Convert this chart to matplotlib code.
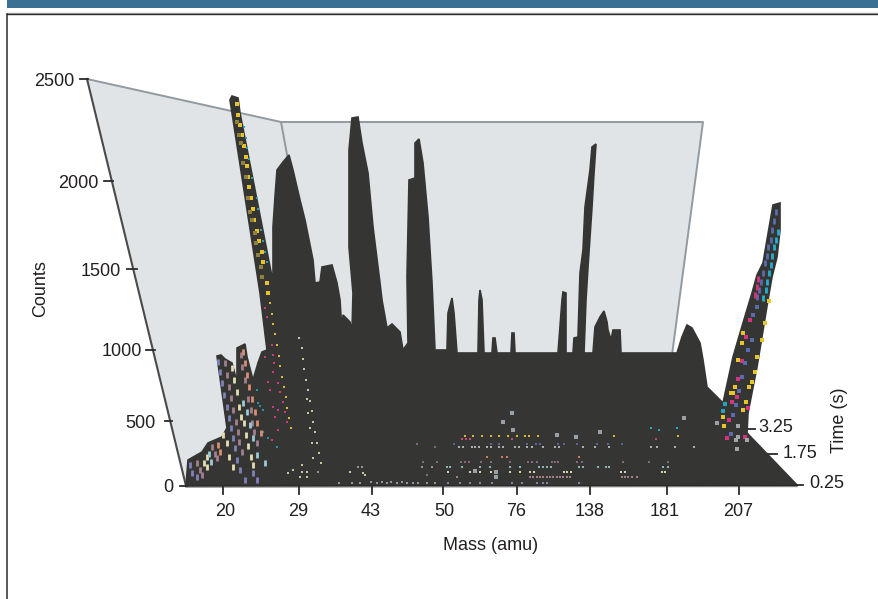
import numpy as np
import matplotlib
matplotlib.use("Agg")
import matplotlib.pyplot as plt

plt.rcParams['font.family'] = ['Liberation Sans', 'DejaVu Sans']

# tick labels
mass_labels = ["20", "29", "43", "50", "76", "138", "181", "207"]
mass_pos = [223, 299, 372, 443, 517, 590, 667, 739]
mass_label_pos = [225, 298, 371, 444, 516, 590, 665, 738]

count_labels = ["2500", "2000", "1500", "1000", "500", "0"]
count_pos = [79, 181, 269, 350, 421, 486]
count_tick_x = [(80, 88), (104, 113), (127, 137), (146, 155), (165, 172), (180, 187)]
count_label_x = [74, 99, 121, 142, 156, 173]

time_labels = ["3.25", "1.75", "0.25"]
time_pos = [429, 454, 485]
time_tick_x = [(748, 755), (768, 777), (797, 803)]
time_label_x = [758, 783, 809]

# back walls of the box
wall_x = [87, 281, 703, 672, 186]
wall_y = [79, 122, 122, 355, 486]

# outline of the surface, as seen on the page
surface_x = [186, 188, 202, 208, 222, 227, 217, 221, 225, 232, 237, 237, 245, 247, 253, 258, 262,
             267, 260, 230, 232, 238, 240, 272, 273, 273, 275, 277, 283, 289, 293, 300, 305, 313,
             315, 320, 322, 332, 337, 340, 342, 343, 350, 352, 353, 349, 349, 352, 358, 362, 368,
             373, 380, 382, 387, 392, 400, 403, 408, 407, 409, 415, 415, 419, 423, 428, 432, 435,
             440, 447, 448, 452, 454, 457, 478, 479, 480, 482, 484, 492, 493, 495, 497, 511, 512,
             514, 515, 558, 562, 563, 566, 566, 573, 574, 578, 580, 583, 585, 590, 592, 596, 594,
             592, 588, 586, 584, 593, 595, 600, 604, 607, 608, 611, 613, 620, 621, 677, 682, 687,
             692, 700, 703, 707, 723, 733, 743, 752, 757, 763, 773, 780, 780, 777, 772, 768, 757,
             748, 747, 797]
surface_y = [486, 460, 452, 443, 437, 428, 356, 355, 359, 363, 382, 348, 344, 357, 380, 363, 352,
             350, 293, 100, 96, 98, 113, 277, 273, 227, 197, 170, 162, 155, 170, 200, 220, 260,
             283, 282, 267, 265, 283, 300, 332, 315, 322, 332, 293, 247, 150, 118, 117, 143, 173,
             227, 283, 300, 328, 324, 332, 350, 343, 277, 180, 178, 143, 139, 163, 217, 283, 350,
             350, 350, 313, 298, 313, 353, 353, 300, 290, 300, 353, 353, 338, 338, 353, 353, 333,
             333, 353, 353, 300, 292, 293, 353, 353, 338, 337, 273, 250, 207, 170, 147, 144, 173,
             207, 267, 300, 353, 353, 327, 317, 311, 322, 330, 340, 330, 330, 353, 353, 337, 325,
             328, 343, 360, 387, 403, 357, 323, 293, 275, 263, 205, 203, 230, 257, 277, 300, 367,
             413, 433, 485]

# speckles on the surface, read at 3x from the crops
# left tall peak and the ridge below it (crop origin 0,0 and 0,300)
tall_yellow = [(710, 312), (715, 345), (720, 375), (727, 405), (732, 438), (738, 470), (742, 498),
               (745, 532), (748, 562), (752, 594), (758, 628), (762, 660), (770, 693), (778, 722),
               (785, 755), (790, 785), (800, 848), (805, 880)]
tall_olive = [(712, 365), (718, 405), (722, 430), (730, 490), (738, 530), (745, 595), (750, 635),
              (757, 660), (765, 700), (768, 730), (775, 765), (782, 800), (785, 830)]
tall_cyan = [(732, 382), (738, 415), (742, 445), (748, 478), (757, 535), (770, 595), (775, 628),
             (783, 690), (790, 722), (795, 755), (802, 785)]
ridge_yellow = [(810, 10), (815, 42), (820, 72), (825, 103), (830, 135), (836, 167), (840, 198),
                (847, 230), (852, 260), (857, 292), (862, 323), (867, 353), (872, 385)]
ridge_magenta = [(795, 25), (800, 52), (795, 170), (815, 135), (820, 165), (822, 190), (805, 245),
                 (810, 270), (820, 215), (835, 250), (840, 275), (850, 305), (820, 322), (835, 330),
                 (855, 335), (825, 350), (835, 390), (860, 365), (815, 420)]
ridge_cyan = [(770, 270), (780, 318), (790, 330), (775, 310), (805, 415), (790, 395), (830, 442)]
ridge_cream = [(897, 113), (905, 145), (908, 177), (913, 208), (918, 240), (924, 270), (930, 302),
               (935, 333), (940, 365), (945, 397), (950, 428), (935, 428), (957, 458), (962, 490),
               (920, 297), (925, 340), (930, 385), (940, 475), (905, 495), (880, 510), (865, 520),
               (920, 515), (920, 530), (900, 530), (905, 515), (1050, 515), (1090, 520), (1095, 525)]
floor_left_gray = [(1018, 548), (1055, 548), (1080, 550), (1112, 545), (1130, 548), (1145, 545),
                   (1160, 548), (1172, 545), (1190, 548), (1205, 547), (1222, 548), (1238, 548),
                   (1255, 548), (1282, 548), (1305, 548), (955, 515), (1075, 500), (1085, 500),
                   (1265, 500), (1295, 500)]
floor_left_mauve = [(1252, 433), (1305, 442), (1268, 485), (1280, 525), (1312, 485)]

# low fan at the left, short dashes (crop origin 0,300)
fan_violet = [(655, 185), (660, 215), (667, 250), (672, 285), (680, 320), (687, 355), (693, 385),
              (700, 415), (705, 445), (712, 480), (720, 510), (735, 540), (570, 495), (575, 520),
              (590, 530), (760, 520), (770, 540)]
fan_brown = [(675, 190), (680, 225), (688, 260), (692, 295), (700, 330), (707, 365), (713, 395),
             (718, 425), (725, 455), (722, 165), (727, 200), (735, 240), (745, 297), (752, 330),
             (757, 370), (762, 395), (770, 430), (592, 490), (600, 510), (605, 525), (635, 440),
             (645, 462), (650, 475)]
fan_cream = [(695, 205), (702, 240), (710, 275), (718, 320), (723, 352), (732, 370), (738, 405),
             (745, 437), (752, 470), (760, 495), (620, 470), (612, 490), (622, 500), (670, 405),
             (680, 430), (688, 470), (700, 500)]
fan_salmon = [(730, 155), (735, 190), (742, 225), (748, 262), (755, 298), (765, 335), (772, 370),
              (782, 400), (655, 435), (660, 455)]
fan_blue = [(628, 462), (632, 485), (730, 310), (740, 335), (750, 375), (760, 415), (770, 465), (795, 490)]

# floor rows, x read at 3x, crop origin 440,300
row_gold_x = [75, 100, 125, 152, 178, 205, 232, 255, 268, 293, 522, 715]
row_gold_y = 407
row_pink_x = [65, 78, 90, 215, 648]
row_pink_y = 416
row_violet_x = [42, 152, 178, 262, 288, 300, 355, 372, 412, 470, 505, 545]
row_violet_y = 433
row_gray_x = [57, 70, 95, 105, 117, 140, 152, 178, 190, 225, 237, 262, 275, 308, 345, 358, 430, 465,
              508, 632, 705, 762, 652]
row_gray_y = 442
row_salmon_x = [140, 187, 200, 418]
row_salmon_y = 470
row_mauve_x = [62, 75, 87, 122, 152, 210, 265, 277, 290, 335, 345, 355, 412, 425, 550, 628, 683]
row_mauve_y = 485
row_pale_x = [22, 30, 65, 120, 150, 210, 240, 297, 310, 320, 332, 418, 430, 475, 497, 507, 683, 670]
row_pale_y = 500
row_cream_x = [25, 90, 105, 120, 152, 210, 240, 270, 282, 372, 382, 392, 542, 555, 665, 675]
row_cream_y = 516
row_rose_x = [50, 165, 270, 280, 290, 300, 310, 320, 330, 340, 350, 360, 370, 380, 390, 545, 555,
              565, 575, 590]
row_rose_y = 532
row_base_x = [25, 60, 90, 120, 155, 215, 245, 290, 310, 320, 418]
row_base_y = 548
floor_gray = [(350, 405), (215, 340), (188, 365), (218, 390), (105, 512), (168, 530), (168, 515),
              (408, 410), (480, 397), (830, 370), (732, 353)]
floor_cyan = [(632, 385), (658, 390), (710, 385)]

# right tall peak, crop origin 440,0
right_top_violet = [(1008, 635), (1003, 662), (997, 690), (992, 720), (985, 742), (980, 768),
                    (975, 790), (970, 818), (963, 845), (957, 870), (952, 890)]
right_top_cyan = [(1015, 695), (1008, 720), (1002, 742), (997, 768), (992, 795), (988, 818),
                  (982, 845), (977, 870), (970, 895)]
right_top_magenta = [(955, 838), (950, 860), (945, 885)]
# crop origin 440,300
right_magenta = [(930, 60), (918, 112), (905, 183), (893, 238), (875, 305), (868, 360), (860, 415),
                 (925, 325), (915, 410), (890, 290)]
right_violet = [(950, 20), (940, 45), (935, 120), (925, 150), (915, 190), (905, 230), (897, 272),
                (887, 315), (880, 345), (872, 403)]
right_yellow = [(987, 3), (975, 70), (965, 120), (950, 170), (945, 215), (935, 245), (928, 262),
                (918, 305), (910, 330), (880, 280), (852, 378), (885, 262), (905, 130), (910, 100),
                (895, 180), (850, 352), (873, 280)]
right_cyan = [(855, 312), (850, 332)]
right_gray = [(895, 378), (887, 420), (890, 447), (895, 410), (920, 420)]


def from_crop(pts, ox, oy):
    pts = np.array(pts, dtype=float)
    return pts[:, 0] / 3 + ox, pts[:, 1] / 3 + oy


def row(xs, y):
    return [(x, y) for x in xs]


fig = plt.figure(figsize=(8.79, 5.99), dpi=100)
ax = fig.add_axes([0, 0, 1, 1])
ax.set_xlim(0, 879)
ax.set_ylim(599, 0)
ax.axis("off")

# page furniture
ax.fill([7, 879, 879, 7], [0, 0, 8, 8], color="#3b7095", lw=0, zorder=1)
ax.plot([7, 879], [13, 13], color="#a9a9a9", lw=1, zorder=1)
ax.plot([7.5, 879], [14.3, 14.3], color="#2a2a2a", lw=1, zorder=1)
ax.plot([7.5, 7.5], [14, 599], color="#2a2a2a", lw=1.1, zorder=1)

# walls
ax.fill(wall_x, wall_y, color="#e0e4e7", lw=0, zorder=2)
ax.plot(wall_x[:4], wall_y[:4], color="#929aa1", lw=1.4, zorder=3)
ax.plot([wall_x[1], 288], [wall_y[1], 160], color="#929aa1", lw=1.4, zorder=3)
ax.plot([wall_x[0], wall_x[4]], [wall_y[0], wall_y[4]], color="#4a4a48", lw=1.5, zorder=3)

# surface
ax.fill(surface_x, surface_y, color="#353533", lw=1.2, ec="#353533", zorder=4)
ax.plot([186, 797], [487.2, 486.5], color="#9a9a9a", lw=1, zorder=4)
ax.plot([186, 797], [485.8, 485.5], color="#2a2a28", lw=1, zorder=5)


def dots(pts, ox, oy, color, s=3.5):
    x, y = from_crop(pts, ox, oy)
    ax.scatter(x, y, s=s, c=color, marker="s", linewidths=0, zorder=6)


def dashes(pts, ox, oy, color):
    x, y = from_crop(pts, ox, oy)
    ax.vlines(x, y - 3, y + 3, color=color, lw=2.0, zorder=6)


dots(tall_yellow, 0, 0, "#e8c22a", 7)
dots(tall_olive, 0, 0, "#8f8140", 6)
dots(tall_cyan, 0, 0, "#2d9db5", 3)
dots(ridge_yellow, 0, 300, "#d9bd3c")
dots(ridge_magenta, 0, 300, "#d13a80")
dots(ridge_cyan, 0, 300, "#2b93ab")
dots(ridge_cream, 0, 300, "#c9c3a0")
dots(floor_left_gray, 0, 300, "#8e979e")
dots(floor_left_mauve, 0, 300, "#7d6a80")

dashes(fan_violet, 0, 300, "#7d82bb")
dashes(fan_brown, 0, 300, "#a3808f")
dashes(fan_cream, 0, 300, "#e6dfb4")
dashes(fan_salmon, 0, 300, "#d98e70")
dashes(fan_blue, 0, 300, "#9ccbd8")

dots(row(row_gold_x, row_gold_y), 440, 300, "#d6b83a")
dots(row(row_pink_x, row_pink_y), 440, 300, "#c9457f")
dots(row(row_violet_x, row_violet_y), 440, 300, "#5d6396")
dots(row(row_gray_x, row_gray_y), 440, 300, "#a9b0b5")
dots(row(row_salmon_x, row_salmon_y), 440, 300, "#c9805f")
dots(row(row_mauve_x, row_mauve_y), 440, 300, "#86677f")
dots(row(row_pale_x, row_pale_y), 440, 300, "#8fb5bb")
dots(row(row_cream_x, row_cream_y), 440, 300, "#d9d3a8")
dots(row(row_rose_x, row_rose_y), 440, 300, "#a47f85")
dots(row(row_base_x, row_base_y), 440, 300, "#7f86a8")
dots(floor_gray, 440, 300, "#9aa1a6", 6)
dots(floor_cyan, 440, 300, "#27a6c4")

dashes(right_top_violet, 440, 0, "#5b6bb0")
dashes(right_top_cyan, 440, 0, "#25b0cf")
dashes(right_top_magenta, 440, 0, "#d5357f")
dots(right_magenta, 440, 300, "#d5357f", 8)
dots(right_violet, 440, 300, "#5b6bb0", 8)
dots(right_yellow, 440, 300, "#e8c62a", 6)
dots(right_cyan, 440, 300, "#25a0bd", 5)
dots(right_gray, 440, 300, "#a0a6aa", 7)

# ticks and labels
tick_kw = dict(color="#2a2a2a", lw=1.3, zorder=5)
text_kw = dict(fontsize=13, color="#231f20", zorder=7)
for x, x_lab, lab in zip(mass_pos, mass_label_pos, mass_labels):
    ax.plot([x, x], [487, 494], **tick_kw)
    ax.text(x_lab, 511, lab, ha="center", va="center", **text_kw)
for y, (x0, x1), x_lab, lab in zip(count_pos, count_tick_x, count_label_x, count_labels):
    ax.plot([x0, x1], [y, y], **tick_kw)
    ax.text(x_lab, y + 2, lab, ha="right", va="center", **text_kw)
for y, (x0, x1), x_lab, lab in zip(time_pos, time_tick_x, time_label_x, time_labels):
    ax.plot([x0, x1], [y, y], **tick_kw)
    ax.text(x_lab, y - 1, lab, ha="left", va="center", **text_kw)

ax.text(491, 546, "Mass (amu)", ha="center", va="center", **text_kw)
ax.text(41, 289, "Counts", rotation=90, ha="center", va="center", **text_kw)
ax.text(840, 420, "Time (s)", rotation=90, ha="center", va="center", **text_kw)

plt.savefig("out.png", dpi=100)
